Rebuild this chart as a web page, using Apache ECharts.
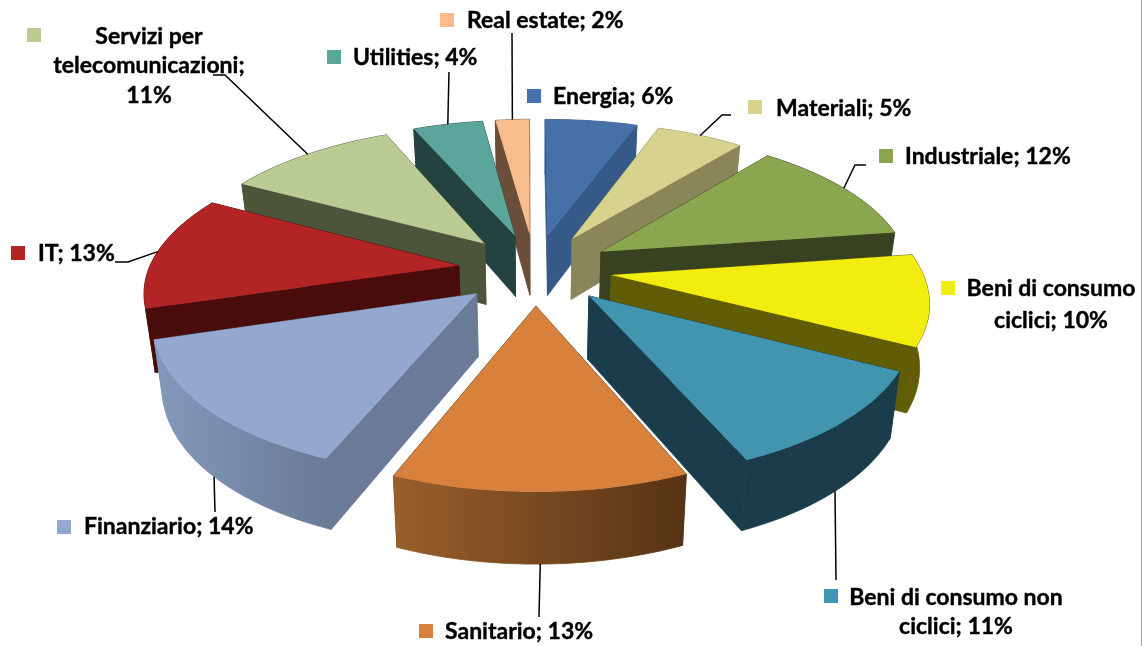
<!DOCTYPE html>
<html>
<head>
<meta charset="utf-8">
<style>
  html, body { margin: 0; padding: 0; background: #fff; }
  #chart { width: 1143px; height: 646px; }
</style>
</head>
<body>
<div id="chart"></div>
<script src="https://cdn.jsdelivr.net/npm/echarts@6/dist/echarts.min.js"></script>
<script>
const categories = ['Energia', 'Materiali', 'Industriale', 'Beni di consumo ciclici', 'Beni di consumo non ciclici', 'Sanitario', 'Finanziario', 'IT', 'Servizi per telecomunicazioni', 'Utilities', 'Real estate']
// the labels show them rounded
const values = [5.7, 5.4, 11.9, 9.9, 10.9, 12.6, 14.2, 12.5, 10.5, 4.3, 2.1]

const topColors = ['#4671a8', '#d7d38f', '#8aa64e', '#f3ec0f', '#4295af', '#d8813c', '#93a7cf', '#b32425', '#bacb93', '#5ca59a', '#f8bd8d']
const cutColors = ['#365a87', '#8a8659', '#384220', '#615d07', '#1b3d4b', '#563315', '#6b7b97', '#4a0b0b', '#4c543a', '#24423f', '#6a4e39']
// wall shading, left to right
const wallColors = [
  ['#365a87', '#365a87'], ['#8a8659', '#8a8659'], ['#384220', '#384220'], ['#615d07', '#615d07'],
  ['#1b3d4b', '#1b3d4b'], ['#9a5f2a', '#563315'], ['#8399bc', '#6a7a96'], ['#4a0b0b', '#4a0b0b'],
  ['#4c543a', '#4c543a'], ['#24423f', '#24423f'], ['#6a4e39', '#6a4e39']
]

// label layout: key square, text anchor, line breaks, leader elbow
const labelLayout = [
  { key: [527, 89], x: 553, y: 97, leader: null },
  { key: [748, 100], x: 776, y: 109, leader: [[722, 115], [731, 115]] },
  { key: [879, 149], x: 905, y: 157, leader: [[855, 165], [866, 165]] },
  { key: [941, 281], x: 1051, y: 305, lh: 32, center: true, breaks: ['consumo '], leader: null },
  { key: [824, 589], x: 956, y: 612, center: true, breaks: ['non '], leader: [[836, 580]] },
  { key: [419, 624], x: 445, y: 632, leader: [[539, 617]] },
  { key: [57, 520], x: 84, y: 527, leader: [[215, 512]] },
  { key: [11, 246], x: 38, y: 254, leader: [[128, 262], [115, 262]] },
  { key: [27, 28], x: 149, y: 66, center: true, breaks: ['per ', 'telecomunicazioni; '], leader: [[225, 75], [213, 75]] },
  { key: [327, 50], x: 353, y: 58, leader: [[449, 72]] },
  { key: [440, 13], x: 467, y: 21, leader: [[512, 33]] }
]

// projection of the tilted, exploded disc
const view = { cx: 535, cy: 269, a: 310, b: 143.6, persp: 0.157, explode: 0.248, depth: 62, shrink: 0.975, skew: 3.5, startDeg: -1 }

const total = values.reduce((s, v) => s + v, 0)
const slices = []
values.reduce((start, v) => {
  const end = start + v / total * Math.PI * 2
  slices.push({ start, end, mid: (start + end) / 2 })
  return end
}, view.startDeg * Math.PI / 180)

function project(X, Y, low) {
  const w = 1 / (1 - view.persp * Y)
  const x = view.a * X * w
  const y = view.b * Y * w
  // the back of the disc sits a little to the right
  const cx = view.cx + Math.max(0, -Y) * view.skew
  if (!low) return [cx + x, view.cy + y]
  return [cx + x * view.shrink, view.cy + y + view.depth * Math.pow(w, 0.7)]
}

function rimPoint(s, t, r, low) {
  const X = view.explode * Math.sin(s.mid) + r * Math.sin(t)
  const Y = -view.explode * Math.cos(s.mid) - r * Math.cos(t)
  return project(X, Y, low)
}

function arcOf(s, low) {
  const pts = []
  const n = 40
  for (let k = 0; k <= n; k++) {
    pts.push(rimPoint(s, s.start + (s.end - s.start) * k / n, 1, low))
  }
  return pts
}

function renderSlice(params, api) {
  const i = api.value(0)
  const s = slices[i]
  const top = arcOf(s, false)
  const low = arcOf(s, true)
  const apexTop = rimPoint(s, s.mid, 0, false)
  const apexLow = rimPoint(s, s.mid, 0, true)
  const base = params.dataIndex * 10
  // side faces get a thin stroke of their own colour so no seam shows
  const poly = (points, fill, z, seam) => ({
    type: 'polygon',
    shape: { points },
    style: { fill, stroke: seam ? fill : null, lineWidth: seam ? 0.8 : 0 },
    z2: base + z
  })
  const wall = top.concat(low.slice().reverse())
  const shade = {
    type: 'linear', x: 0, y: 0, x2: 1, y2: 0,
    colorStops: [{ offset: 0, color: wallColors[i][0] }, { offset: 1, color: wallColors[i][1] }]
  }
  return {
    type: 'group',
    children: [
      poly([apexTop, top[0], low[0], apexLow], cutColors[i], 1, true),
      poly([apexTop, top[top.length - 1], low[low.length - 1], apexLow], cutColors[i], 1, true),
      poly(wall, shade, 2, true),
      poly([apexTop].concat(top), topColors[i], 3, false)
    ]
  }
}

// back slices are painted first
const drawOrder = values.map((v, i) => i).sort((p, q) => Math.cos(slices[q].mid) - Math.cos(slices[p].mid))

function labelText(i) {
  let text = categories[i] + '; ' + Math.round(values[i]) + '%'
  ;(labelLayout[i].breaks || []).forEach(b => {
    text = text.replace(b, b.trim() + '\n')
  })
  return text
}

function buildGraphics() {
  const items = []
  labelLayout.forEach((l, i) => {
    items.push({
      type: 'rect',
      shape: { x: l.key[0], y: l.key[1], width: 14, height: 14 },
      style: { fill: topColors[i] }
    })
    items.push({
      type: 'text',
      x: l.x,
      y: l.y,
      style: {
        text: labelText(i),
        font: 'bold 23px Lato, "Open Sans", sans-serif',
        lineHeight: l.lh || 29.5,
        fill: '#000',
        stroke: '#000',
        lineWidth: 0.4,
        align: l.center ? 'center' : 'left',
        verticalAlign: 'middle'
      }
    })
    if (l.leader) {
      const s = slices[i]
      const front = Math.cos(s.mid) < -0.5
      items.push({
        type: 'polyline',
        shape: { points: [rimPoint(s, s.mid, 1, front)].concat(l.leader) },
        style: { stroke: '#000', lineWidth: 1.5, fill: null }
      })
    }
  })
  // frame edge on the right of the picture
  items.push({
    type: 'line',
    shape: { x1: 1141.5, y1: 0, x2: 1141.5, y2: 646 },
    style: { stroke: '#a6a6a6', lineWidth: 1 }
  })
  return items
}

const chart = echarts.init(document.getElementById('chart'))
chart.setOption({
  animation: false,
  backgroundColor: '#fff',
  graphic: { elements: buildGraphics().map(el => Object.assign(el, { z: 10 })) },
  series: [{
    type: 'custom',
    coordinateSystem: 'none',
    silent: true,
    renderItem: renderSlice,
    data: drawOrder.map(i => [i, values[i]])
  }]
})
</script>
</body>
</html>
